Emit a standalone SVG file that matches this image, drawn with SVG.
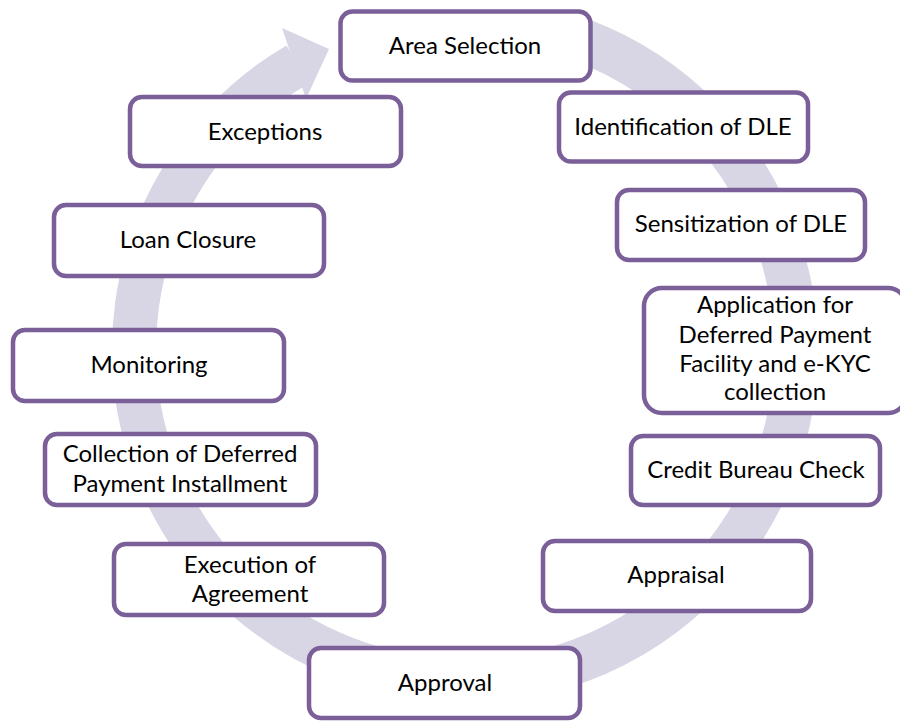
<svg xmlns="http://www.w3.org/2000/svg" width="900" height="721" viewBox="0 0 900 721">
  <defs>
    <style>
      .box { fill: #ffffff; stroke: #7a5f99; stroke-width: 4.5; }
      .lbl { font-family: Lato, "Liberation Sans", sans-serif; font-size: 24px; fill: #000000; text-anchor: middle; }
      .ring { fill: none; stroke: #d8d5e5; stroke-width: 44; }
    </style>
  </defs>
  <rect width="900" height="721" fill="#ffffff"/>
  <g id="connectors">
    <path class="ring" d="M567.3,35.2 A331,331 0 1 1 297.6,64.4"/>
    <polygon points="282,28 329,49 306,99" fill="#d8d5e5"/>
  </g>
  <g id="n1"><rect class="box" x="340.5" y="11.5" width="250" height="69" rx="12"/><text class="lbl" x="465" y="54">Area Selection</text></g>
  <g id="n2"><rect class="box" x="559" y="92.5" width="249" height="69" rx="12"/><text class="lbl" x="683" y="135">Identification of DLE</text></g>
  <g id="n3"><rect class="box" x="617" y="190" width="248" height="70" rx="12"/><text class="lbl" x="741" y="232">Sensitization of DLE</text></g>
  <g id="n4"><rect class="box" x="644" y="288" width="262" height="125" rx="18"/>
    <text class="lbl" x="775" y="313">Application for</text>
    <text class="lbl" x="775" y="343">Deferred Payment</text>
    <text class="lbl" x="775" y="372">Facility and e-KYC</text>
    <text class="lbl" x="775" y="400">collection</text></g>
  <g id="n5"><rect class="box" x="631" y="436" width="249" height="69" rx="12"/><text class="lbl" x="756" y="478">Credit Bureau Check</text></g>
  <g id="n6"><rect class="box" x="543" y="541" width="268" height="70" rx="12"/><text class="lbl" x="676" y="583">Appraisal</text></g>
  <g id="n7"><rect class="box" x="309" y="648" width="271" height="70" rx="12"/><text class="lbl" x="445" y="691">Approval</text></g>
  <g id="n8"><rect class="box" x="114" y="544" width="270" height="71" rx="12"/>
    <text class="lbl" x="250" y="573">Execution of</text>
    <text class="lbl" x="250" y="602">Agreement</text></g>
  <g id="n9"><rect class="box" x="45" y="434" width="271" height="71" rx="12"/>
    <text class="lbl" x="180" y="462">Collection of Deferred</text>
    <text class="lbl" x="180" y="492">Payment Installment</text></g>
  <g id="n10"><rect class="box" x="13" y="330" width="271" height="71" rx="12"/><text class="lbl" x="149" y="373">Monitoring</text></g>
  <g id="n11"><rect class="box" x="54" y="205" width="270" height="71" rx="12"/><text class="lbl" x="188" y="248">Loan Closure</text></g>
  <g id="n12"><rect class="box" x="130" y="97" width="271" height="69" rx="12"/><text class="lbl" x="265" y="140">Exceptions</text></g>
</svg>
